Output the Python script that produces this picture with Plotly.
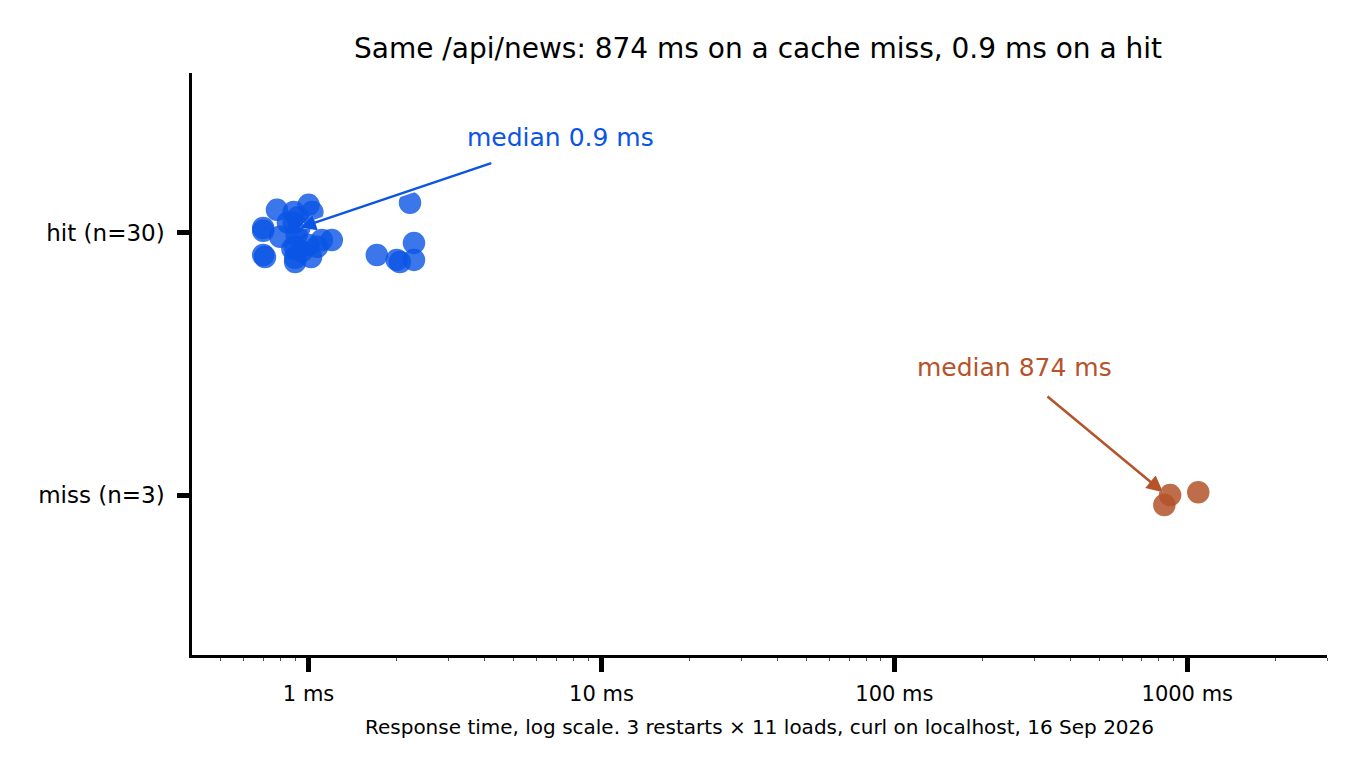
"""
Cache hit vs miss response time for /api/news (strip plot, log x)
"""

import plotly.graph_objects as go

# response times in ms, with small vertical jitter offsets
hit_ms = [0.70, 0.70, 0.70, 0.71, 0.78, 0.80, 0.85, 0.88, 0.89, 0.89,
          0.90, 0.90, 0.90, 0.91, 0.92, 0.93, 0.95, 1.00, 1.00, 1.02,
          1.03, 1.07, 1.11, 1.20, 1.71, 2.00, 2.05, 2.22, 2.29, 2.29]
hit_jitter = [0.019, 0.008, -0.084, -0.092, 0.088, -0.015, 0.040, -0.060, 0.080, 0.038,
              -0.053, -0.111, -0.095, -0.008, 0.060, 0.020, -0.070, 0.107, -0.046, -0.092,
              0.080, -0.053, -0.027, -0.027, -0.084, -0.103, -0.111, 0.115, -0.038, -0.103]
miss_ms = [835, 874, 1090]
miss_jitter = [-0.038, 0.0, 0.011]

categories = ["miss (n=3)", "hit (n=30)"]

x_ticks = [1, 10, 100, 1000]
x_ticklabels = ["1 ms", "10 ms", "100 ms", "1000 ms"]

BLUE = "#0b55e6"
BROWN = "#b5532b"
FONT = "'DejaVu Sans', sans-serif"

fig = go.Figure()
fig.add_trace(go.Scatter(
    x=hit_ms, y=[1 + j for j in hit_jitter], mode="markers",
    marker=dict(size=21, color=BLUE, opacity=0.8, line=dict(color=BLUE, width=1.5)),
    showlegend=False,
))
fig.add_trace(go.Scatter(
    x=miss_ms, y=[0 + j for j in miss_jitter], mode="markers",
    marker=dict(size=21, color=BROWN, opacity=0.85, line=dict(color=BROWN, width=1.5)),
    showlegend=False,
))

# median callouts (white under-stroke so the arrow reads over the markers)
for colour, w in [("white", 6), (BLUE, 2.5)]:
    fig.add_annotation(x=-0.03, y=1.02, xref="x", yref="y", text="",
                       showarrow=True, arrowhead=2, arrowsize=1.3 * 2.5 / w, arrowwidth=w,
                       arrowcolor=colour, ax=193, ay=-65)
fig.add_annotation(x=0.86, y=1.363, text="median 0.9 ms", showarrow=False,
                   font=dict(size=25, color=BLUE, family=FONT))
for colour, w in [("white", 6), (BROWN, 2.5)]:
    fig.add_annotation(x=2.917, y=0.011, text="",
                       showarrow=True, arrowhead=2, arrowsize=1.3 * 2.5 / w, arrowwidth=w,
                       arrowcolor=colour, ax=-117, ay=-97)
fig.add_annotation(x=2.41, y=0.485, text="median 874 ms", showarrow=False,
                   font=dict(size=25, color=BROWN, family=FONT))

fig.update_layout(
    width=1360, height=781,
    margin=dict(l=184, r=41, t=65, b=134),
    paper_bgcolor="white", plot_bgcolor="white",
    font=dict(family=FONT, size=21, color="black"),
    title=dict(text="Same /api/news: 874 ms on a cache miss, 0.9 ms on a hit",
               x=0.5515, xanchor="center", y=0.948, yanchor="middle",
               font=dict(size=28, color="black")),
)
fig.update_xaxes(
    type="log", range=[-0.398, 3.477],
    tickvals=x_ticks, ticktext=x_ticklabels,
    showline=True, linecolor="black", linewidth=2.5,
    ticks="outside", ticklen=14, tickwidth=5, tickcolor="black",
    minor=dict(ticks="outside", ticklen=3, tickwidth=1, tickcolor="#555",
               tickvals=[0.5, 0.6, 0.7, 0.8, 0.9, 2, 3, 4, 5, 6, 7, 8, 9,
                         20, 30, 40, 50, 60, 70, 80, 90,
                         200, 300, 400, 500, 600, 700, 800, 900, 2000, 3000]),
    showgrid=False, zeroline=False,
    tickfont=dict(size=21),
    ticklabelstandoff=4,
    title=dict(text="Response time, log scale. 3 restarts × 11 loads, curl on localhost, 16 Sep 2026",
               font=dict(size=20), standoff=16),
)
fig.update_yaxes(
    range=[-0.61, 1.61],
    tickvals=[0, 1], ticktext=categories,
    showline=True, linecolor="black", linewidth=2.5,
    ticks="outside", ticklen=12, tickwidth=5, tickcolor="black",
    showgrid=False, zeroline=False,
    tickfont=dict(size=23),
    ticklabelstandoff=8,
)

fig.write_html("out.html")
